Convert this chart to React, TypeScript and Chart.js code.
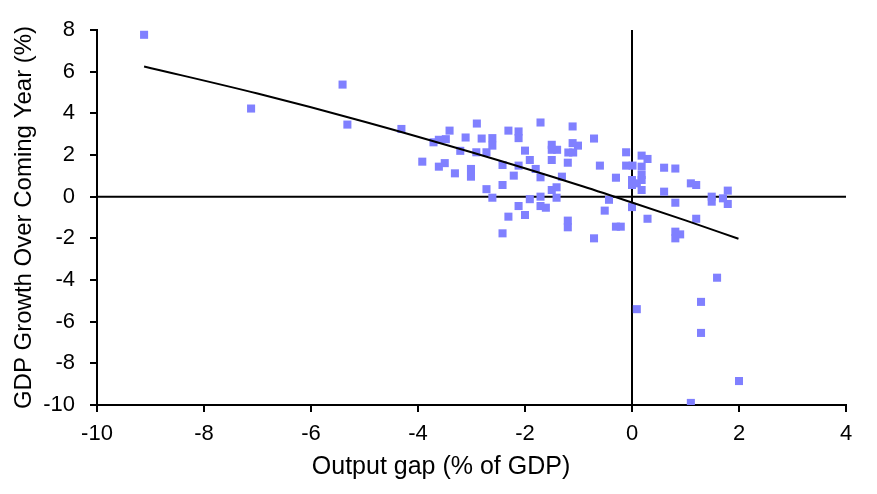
import React, { useEffect, useRef } from "react";
import { Chart, registerables } from "chart.js";

Chart.register(...registerables);

// Output gap (% of GDP)
const gapX: number[] = [
  -9.12, -7.12, -5.41, -5.32, -4.31, -3.41, -2.9, -3.61, -3.48, -3.71,
  -3.11, -2.81, -2.61, -2.61, -2.31, -2.12, -2.12, -1.71, -1.11, -0.71,
  -1.5, -1.5, -1.4, -1.11, -1.01, -1.19, -1.1, -3.92, -3.61, -3.5,
  -3.21, -2.91, -2.72, -3.31, -3.01, -3.01, -2.42, -2.0, -1.91, -2.12,
  -2.21, -1.8, -1.71, -1.5, -1.2, -1.31, -0.6, -0.3, -0.11, -0.11,
  0.01, 0.0, 0.0, -2.42, -2.72, -2.61, -1.91, -1.71, -1.5, -1.41,
  -1.41, -2.12, -1.71, -1.61, -2.0, -2.31, -2.42, -1.2, -1.2, -0.71,
  -0.51, -0.43, -0.3, -0.21, 0.0, 0.18, 0.29, 0.18, 0.6, 0.81,
  0.09, 0.18, 0.18, 0.18, 0.6, 1.1, 1.2, 1.49, 1.49, 1.79,
  1.7, 1.79, 0.81, 0.29, 1.2, 0.81, 0.9, 0.81, 1.59, 1.29,
  0.09, 1.29, 2.0, 1.1,
];

// GDP growth over coming year (%)
const growthY: number[] = [
  7.77, 4.23, 5.38, 3.46, 3.25, 3.17, 3.51, 2.73, 2.76, 2.61,
  2.84, 2.79, 2.81, 2.45, 3.17, 3.13, 2.81, 3.56, 3.37, 2.79,
  2.49, 2.25, 2.25, 2.57, 2.45, 2.12, 2.12, 1.68, 1.44, 1.61,
  2.2, 2.13, 2.13, 1.12, 1.33, 0.96, 1.52, 2.21, 1.76, 1.49,
  1.01, 1.33, 0.93, 1.76, 1.63, 0.96, 1.49, 0.91, 2.13, 1.49,
  1.49, 0.8, 0.56, 0.56, 0.36, -0.05, -0.12, 0.0, 0.32, 0.45,
  -0.05, -0.45, -0.45, -0.53, -0.88, -0.96, -1.76, -1.15, -1.47, -2.0,
  -0.67, -0.15, -1.44, -1.44, -0.5, 1.97, 1.81, 1.44, 1.39, 1.35,
  0.64, 1.04, 0.8, 0.32, 0.24, 0.64, 0.56, 0.0, -0.24, 0.29,
  -0.08, -0.35, -0.29, -1.06, -1.06, -1.68, -1.81, -2.0, -3.89, -5.05,
  -5.4, -6.54, -8.85, -9.9,
];

// Trend line
const trendX: number[] = [-9.12, -7, -5, -3, -1, 0, 1, 1.99];
const trendY: number[] = [6.25, 4.95, 3.6, 2.13, 0.56, -0.28, -1.14, -2.02];

const xTicks = { min: -10, max: 4, step: 2 };
const yTicks = { min: -10, max: 8, step: 2 };

const FONT = "'Liberation Sans', Arial, sans-serif";

export default function App() {
  const ref = useRef<HTMLCanvasElement | null>(null);

  useEffect(() => {
    if (!ref.current) return;
    const scatter = gapX.map((x, i) => ({ x, y: growthY[i] }));
    const trend = trendX.map((x, i) => ({ x, y: trendY[i] }));
    const chart = new Chart(ref.current, {
      type: "scatter",
      data: {
        datasets: [
          {
            type: "line",
            data: [
              { x: 0, y: yTicks.min },
              { x: 0, y: yTicks.max },
            ],
            borderColor: "#000",
            borderWidth: 2,
            pointRadius: 0,
            showLine: true,
            order: 3,
          },
          {
            type: "line",
            data: [
              { x: xTicks.min, y: 0 },
              { x: xTicks.max, y: 0 },
            ],
            borderColor: "#000",
            borderWidth: 2,
            pointRadius: 0,
            showLine: true,
            order: 3,
          },
          {
            data: scatter,
            pointStyle: "rect",
            pointRadius: 5.7,
            pointHoverRadius: 5.7,
            backgroundColor: "#8080ff",
            borderWidth: 0,
            order: 2,
          },
          {
            type: "line",
            data: trend,
            borderColor: "#000",
            borderWidth: 2,
            pointRadius: 0,
            tension: 0.4,
            cubicInterpolationMode: "monotone",
            showLine: true,
            order: 1,
          },
        ],
      },
      options: {
        animation: false,
        responsive: false,
        maintainAspectRatio: false,
        layout: { padding: { top: 30, right: 0, left: 5, bottom: 0 } },
        plugins: {
          legend: { display: false },
          tooltip: { enabled: false },
          title: {
            display: true,
            position: "bottom",
            text: "Output gap (% of GDP)",
            color: "#000",
            font: { family: FONT, size: 25, weight: "normal" },
            padding: { top: 0, bottom: 12 },
          },
        },
        scales: {
          x: {
            type: "linear",
            min: xTicks.min,
            max: xTicks.max,
            afterFit: (s: any) => {
              s.height = 47;
            },
            ticks: {
              stepSize: xTicks.step,
              color: "#000",
              font: { family: FONT, size: 22 },
              padding: 9,
            },
            grid: {
              display: true,
              drawOnChartArea: false,
              drawTicks: true,
              tickLength: 7,
              color: "#000",
              lineWidth: 2,
            },
            border: { display: true, color: "#000", width: 2 },
          },
          y: {
            type: "linear",
            min: yTicks.min,
            max: yTicks.max,
            afterFit: (s: any) => {
              s.width = 92;
            },
            ticks: {
              stepSize: yTicks.step,
              color: "#000",
              font: { family: FONT, size: 22 },
              padding: 15,
            },
            grid: {
              display: true,
              drawOnChartArea: false,
              drawTicks: true,
              tickLength: 7,
              color: "#000",
              lineWidth: 2,
            },
            border: { display: true, color: "#000", width: 2 },
            title: {
              display: true,
              text: "GDP Growth Over Coming Year (%)",
              color: "#000",
              font: { family: FONT, size: 24 },
              padding: { top: 5, bottom: 0 },
            },
          },
          spacer: {
            type: "linear",
            position: "right",
            display: true,
            afterFit: (s: any) => {
              s.width = 31;
            },
            ticks: { display: false },
            grid: { display: false, drawTicks: false },
            border: { display: false },
          },
        },
      },
    });
    return () => chart.destroy();
  }, []);

  return (
    <div style={{ position: "fixed", left: 0, top: 0, width: 877, height: 494, background: "#fff" }}>
      <canvas ref={ref} width={877} height={494} style={{ width: 877, height: 494 }} />
    </div>
  );
}
